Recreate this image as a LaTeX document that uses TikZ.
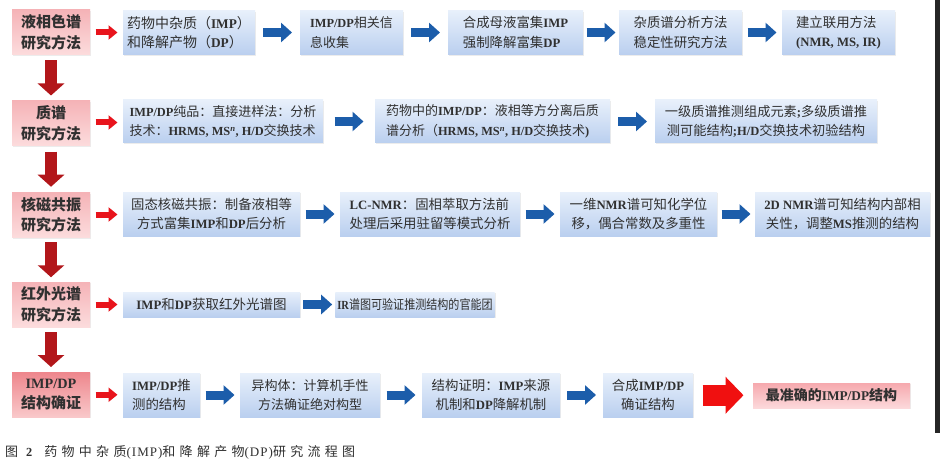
\documentclass[tikz,border=0pt]{standalone}
\usepackage{fontspec}
\usepackage{graphicx}
\setmainfont{Noto Sans CJK SC}
\newfontfamily\lat[Scale=0.95]{Liberation Serif}
\newfontfamily\capfont[LetterSpace=33]{Noto Sans CJK SC}
\newfontfamily\caplat[LetterSpace=8]{Liberation Serif}
\usetikzlibrary{arrows.meta,calc,shadows}
\newcommand\en[1]{{\lat\bfseries #1}}
\definecolor{bl1}{HTML}{E8F0FB}
\definecolor{bl2}{HTML}{BACFEF}
\definecolor{rd1}{HTML}{F5B3B7}
\definecolor{rd2}{HTML}{FCDCDD}
\definecolor{rd3}{HTML}{EE868C}
\definecolor{rd4}{HTML}{F9C8CA}
\definecolor{pk1}{HTML}{F6A9AE}
\definecolor{pk2}{HTML}{FCD9DB}
\definecolor{ab}{HTML}{1C5DAA}
\definecolor{ar}{HTML}{E8141C}
\definecolor{ad}{HTML}{B2161A}
\definecolor{ar2}{HTML}{F01010}
\definecolor{txt}{HTML}{303030}
\tikzset{
  box/.style={draw=none, top color=bl1, bottom color=bl2, text=txt,
    font=\fontsize{13.4}{19.5}\selectfont, inner sep=2pt, minimum height=44pt,
    align=left, drop shadow={shadow xshift=1pt, shadow yshift=-1.2pt, opacity=.15}},
  lbox/.style={box, top color=rd1, bottom color=rd2,
    font=\fontsize{15}{20.5}\selectfont\bfseries, align=center,
    minimum width=78pt, minimum height=45pt},
  hconn/.style={to path={($(\tikztostart.east)!.5!(\tikztotarget.west)$) ++(-#1/2,0) -- ++(#1,0)}},
  vconn/.style={to path={($(\tikztostart.south)!.5!(\tikztotarget.north)$) ++(0,-#1/2) -- ++(0,#1)}},
  barrow/.style={draw=ab, line width=9pt, -{Triangle[length=11pt,width=19pt]}, hconn=29},
  rarrow/.style={draw=ar, line width=6pt, -{Triangle[length=9pt,width=14pt]}, hconn=22},
  darrow/.style={draw=ad, line width=12pt, -{Triangle[length=12pt,width=26pt]}, vconn=35},
  bigarrow/.style={draw=ar2, line width=21pt, -{Triangle[length=18pt,width=36pt]}, hconn=41},
}
\begin{document}
\begin{tikzpicture}[x=1pt,y=-1pt]
\useasboundingbox (0,0) rectangle (940,468);
\fill[white] (0,0) rectangle (940,468);
\fill[black!85] (935,0) rectangle (940,433);
% row 1
\node[lbox] (L1) at (51,32.5) {液相色谱\\研究方法};
\node[box, minimum width=132pt, font=\fontsize{14}{19.5}\selectfont] (A1) at (189,32.5) {药物中杂质（\en{IMP}）\\和降解产物（\en{DP}）};
\node[box, minimum width=103pt, font=\fontsize{13}{19.5}\selectfont] (A2) at (351.5,32.5) {\en{IMP/DP}相关信\\息收集};
\node[box, minimum width=135pt] (A3) at (515.5,32.5) {合成母液富集\en{IMP}\\强制降解富集\en{DP}};
\node[box, minimum width=123pt] (A4) at (680.5,32.5) {杂质谱分析方法\\稳定性研究方法};
\node[box, minimum width=113pt] (A5) at (838.5,32.5) {建立联用方法\\\en{(NMR, MS, IR)}};
% row 2
\node[lbox] (L2) at (51,123.5) {质谱\\研究方法};
\node[box, minimum width=200pt, minimum height=43pt, font=\fontsize{13}{19.5}\selectfont] (B1) at (223,121.5)
  {\en{IMP/DP}纯品：直接进样法：分析\\技术：\en{HRMS, MS\textsuperscript{\itshape n}, H/D}交换技术};
\node[box, minimum width=235pt, minimum height=43pt, font=\fontsize{13}{19.5}\selectfont] (B2) at (492.5,121.5)
  {药物中的\en{IMP/DP}：液相等方分离后质\\谱分析（\en{HRMS, MS\textsuperscript{\itshape n}, H/D}交换技术\en{)}};
\node[box, minimum width=222pt, minimum height=43pt, align=center, font=\fontsize{13.2}{19.5}\selectfont] (B3) at (766,121.5)
  {一级质谱推测组成元素\en{;}多级质谱推\\测可能结构\en{;H/D}交换技术初验结构};
% row 3
\node[lbox] (L3) at (51,215) {核磁共振\\研究方法};
\node[box, minimum width=177pt, align=center] (C1) at (211.5,214) {固态核磁共振：制备液相等\\方式富集\en{IMP}和\en{DP}后分析};
\node[box, minimum width=180pt] (C2) at (430,214) {\en{LC-NMR}：固相萃取方法前\\处理后采用驻留等模式分析};
\node[box, minimum width=157pt, align=center] (C3) at (638.5,214) {一维\en{NMR}谱可知化学位\\移，偶合常数及多重性};
\node[box, minimum width=175pt, align=center] (C4) at (842.5,214) {\en{2D NMR}谱可知结构内部相\\关性，调整\en{MS}推测的结构};
% row 4
\node[lbox] (L4) at (51,304.5) {红外光谱\\研究方法};
\node[box, minimum width=177pt, minimum height=25pt, font=\fontsize{13.5}{16}\selectfont] (D1) at (211.5,304.5) {\en{IMP}和\en{DP}获取红外光谱图};
\node[box, minimum width=156pt, minimum height=25pt, font=\fontsize{13}{16}\selectfont] (D2) at (415,304.5) {\scalebox{0.85}[1]{\en{IR}谱图可验证推测结构的官能团}};
% row 5
\node[lbox, top color=rd3, bottom color=rd4] (L5) at (51,394.5) {\en{IMP/DP}\\结构确证};
\node[box, minimum width=77pt] (E1) at (161.5,395) {\en{IMP/DP}推\\测的结构};
\node[box, minimum width=140pt, align=center, font=\fontsize{13}{19.5}\selectfont] (E2) at (310,395) {异构体：计算机手性\\方法确证绝对构型};
\node[box, minimum width=138pt, align=center] (E3) at (491,395) {结构证明：\en{IMP}来源\\机制和\en{DP}降解机制};
\node[box, minimum width=90pt, align=center] (E4) at (648,395) {合成\en{IMP/DP}\\确证结构};
\node[box, top color=pk1, bottom color=pk2, minimum width=157pt, minimum height=25pt,
  font=\fontsize{14}{16}\selectfont\bfseries] (F) at (831.5,395.5) {最准确的\en{IMP/DP}结构};
% connectors
\draw[rarrow] (L1) to (A1);
\draw[barrow] (A1) to (A2);
\draw[barrow] (A2) to (A3);
\draw[barrow] (A3) to (A4);
\draw[barrow] (A4) to (A5);
\draw[rarrow] (L2) to (B1);
\draw[barrow] (B1) to (B2);
\draw[barrow] (B2) to (B3);
\draw[rarrow] (L3) to (C1);
\draw[barrow] (C1) to (C2);
\draw[barrow] (C2) to (C3);
\draw[barrow] (C3) to (C4);
\draw[rarrow] (L4) to (D1);
\draw[barrow] (D1) to (D2);
\draw[rarrow] (L5) to (E1);
\draw[barrow] (E1) to (E2);
\draw[barrow] (E2) to (E3);
\draw[barrow] (E3) to (E4);
\draw[bigarrow] (E4) to (F);
\draw[darrow] (L1) to (L2);
\draw[darrow] (L2) to (L3);
\draw[darrow] (L3) to (L4);
\draw[darrow] (L4) to (L5);
% caption
\node[anchor=west, text=txt, font=\fontsize{13}{15}\selectfont, inner sep=0pt] (cap) at (5,452.5)
  {图\hspace{8pt}{\lat\bfseries 2}\hspace{12pt}{\capfont 药物中杂质{\caplat (IMP)}和降解产物{\caplat (DP)}研究流程图}};
\end{tikzpicture}
\end{document}
